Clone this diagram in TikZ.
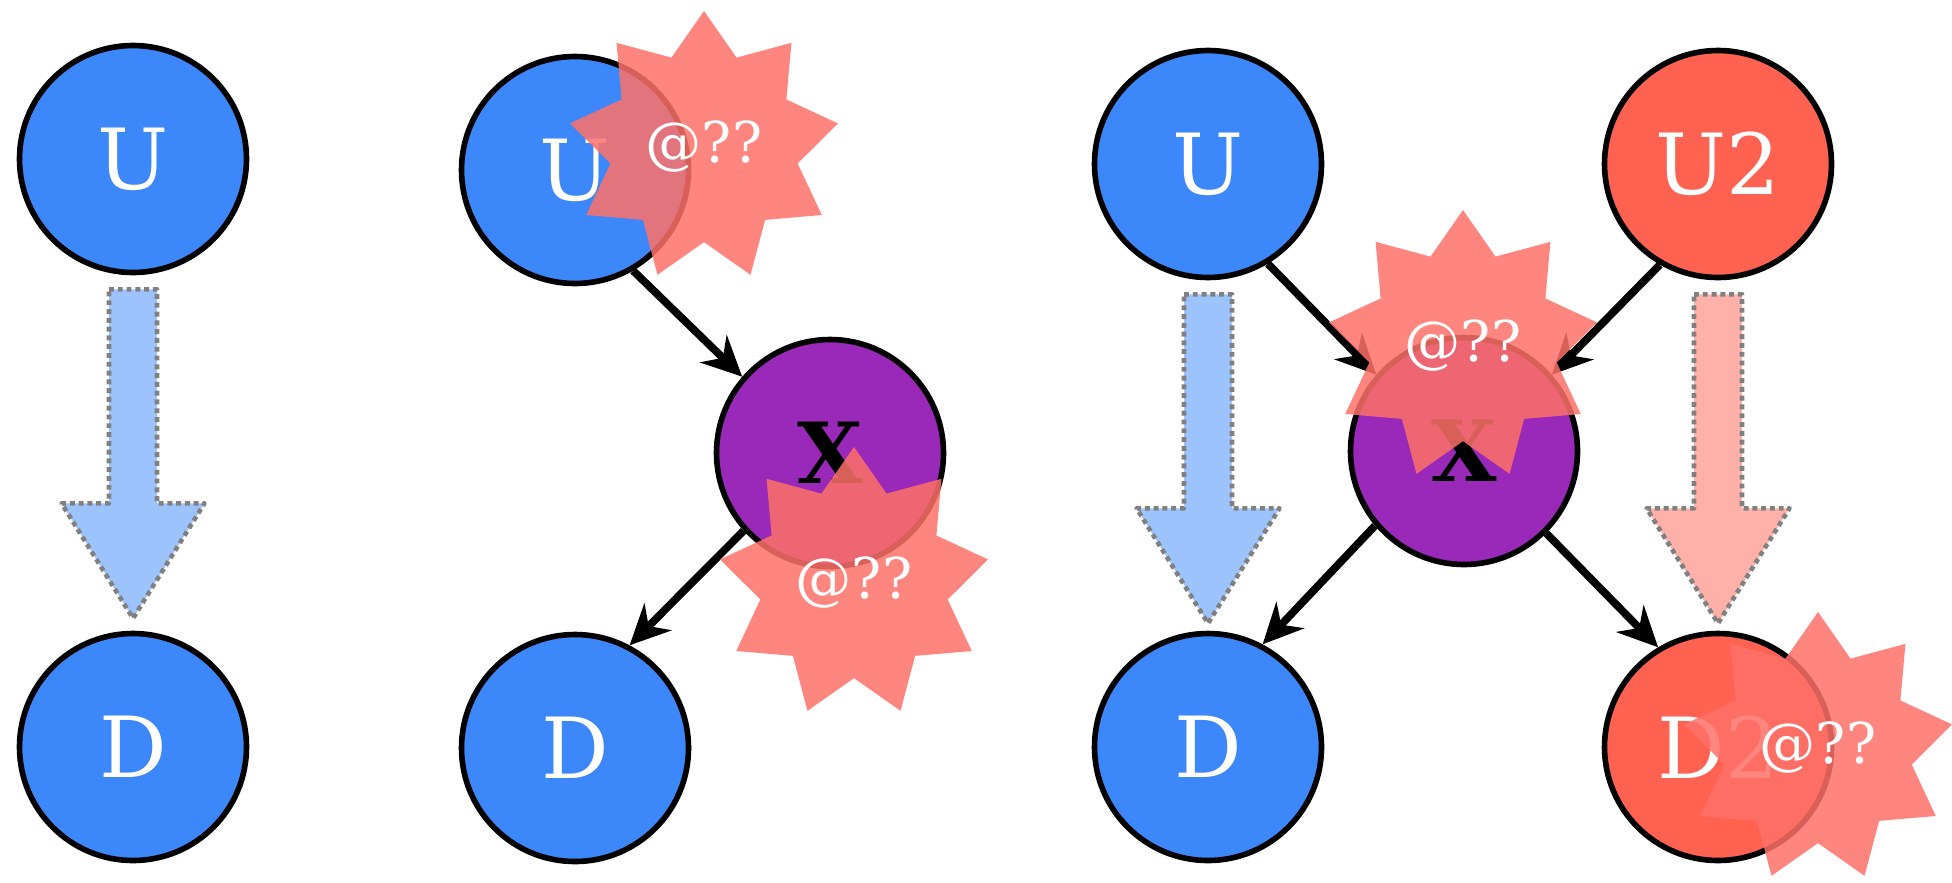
\documentclass[tikz,border=0pt]{standalone}
\usepackage{fontspec}
\setmainfont{DejaVu Serif}
\usetikzlibrary{arrows.meta,shapes.geometric}
\definecolor{DagBlue}{HTML}{3C87FA}
\definecolor{DagRed}{HTML}{FF6250}
\definecolor{DagPurple}{HTML}{9A28B8}
\definecolor{DagBlueLt}{HTML}{9DC3FD}
\definecolor{DagRedLt}{HTML}{FFB0A8}
\definecolor{DagBurst}{HTML}{FF7168}

\tikzset{
  var/.style={circle,draw=black,line width=1.6pt,minimum size=2.27cm,inner sep=0pt,
    text=white,font=\fontsize{24}{28}\selectfont},
  cause/.style={-{Stealth[length=4mm,width=3.8mm]},line width=2.2pt},
  burst/.style={star,star points=9,star point ratio=1.43,minimum size=2.72cm,inner sep=0pt,
    fill=DagBurst,fill opacity=0.85,text opacity=1,text=white,font=\fontsize{16}{19}\selectfont},
  pics/fatarrow/.style={code={
    \filldraw[fill=#1,draw=gray,line width=1.3pt,dash pattern=on 1.4pt off 1.1pt]
      (-0.24,0) -- (0.24,0) -- (0.24,-2.14) -- (0.715,-2.14) -- (0,-3.29)
      -- (-0.715,-2.14) -- (-0.24,-2.14) -- cycle;
  }}
}

\begin{document}
\begin{tikzpicture}[line join=round]
  \useasboundingbox (0,0) rectangle (19.52,8.82);

  % left: U straight into D
  \node[var,fill=DagBlue] (u1) at (1.33,7.23) {U};
  \node[var,fill=DagBlue] (d1) at (1.33,1.35) {D};
  \path (u1.south) ++(0,-0.14) pic {fatarrow=DagBlueLt};

  % middle: through X
  \node[var,fill=DagBlue] (u2) at (5.75,7.12) {U};
  \node[var,fill=DagPurple,text=black] (x2) at (8.30,4.29) {\bfseries X};
  \node[var,fill=DagBlue] (d2) at (5.75,1.34) {D};
  \draw[cause] (u2.-60) -- (x2.139);
  \draw[cause] (x2.222) -- (d2.62);

  % right: two outcomes
  \node[var,fill=DagBlue] (u3) at (12.08,7.18) {U};
  \node[var,fill=DagRed] (v3) at (17.18,7.18) {U2};
  \node[var,fill=DagPurple,text=black] (x3) at (14.64,4.31) {\bfseries X};
  \node[var,fill=DagBlue] (d3) at (12.08,1.35) {D};
  \node[var,fill=DagRed] (e3) at (17.18,1.35) {D2};
  \draw[cause] (u3.-59) -- (x3.139);
  \draw[cause] (v3.-120) -- (x3.41);
  \draw[cause] (x3.220) -- (d3.62);
  \draw[cause] (x3.-45) -- (e3.121);
  \path (u3.south) ++(0,-0.14) pic {fatarrow=DagBlueLt};
  \path (v3.south) ++(0,-0.14) pic {fatarrow=DagRedLt};

  % bursts on top
  \node[burst] (b1) at (7.04,7.35) {@??};
  \node[burst] (b2) at (8.54,2.99) {@??};
  \node[burst] (b3) at (14.63,5.36) {@??};
  \node[burst] (b4) at (18.18,1.34) {@??};
\end{tikzpicture}
\end{document}
